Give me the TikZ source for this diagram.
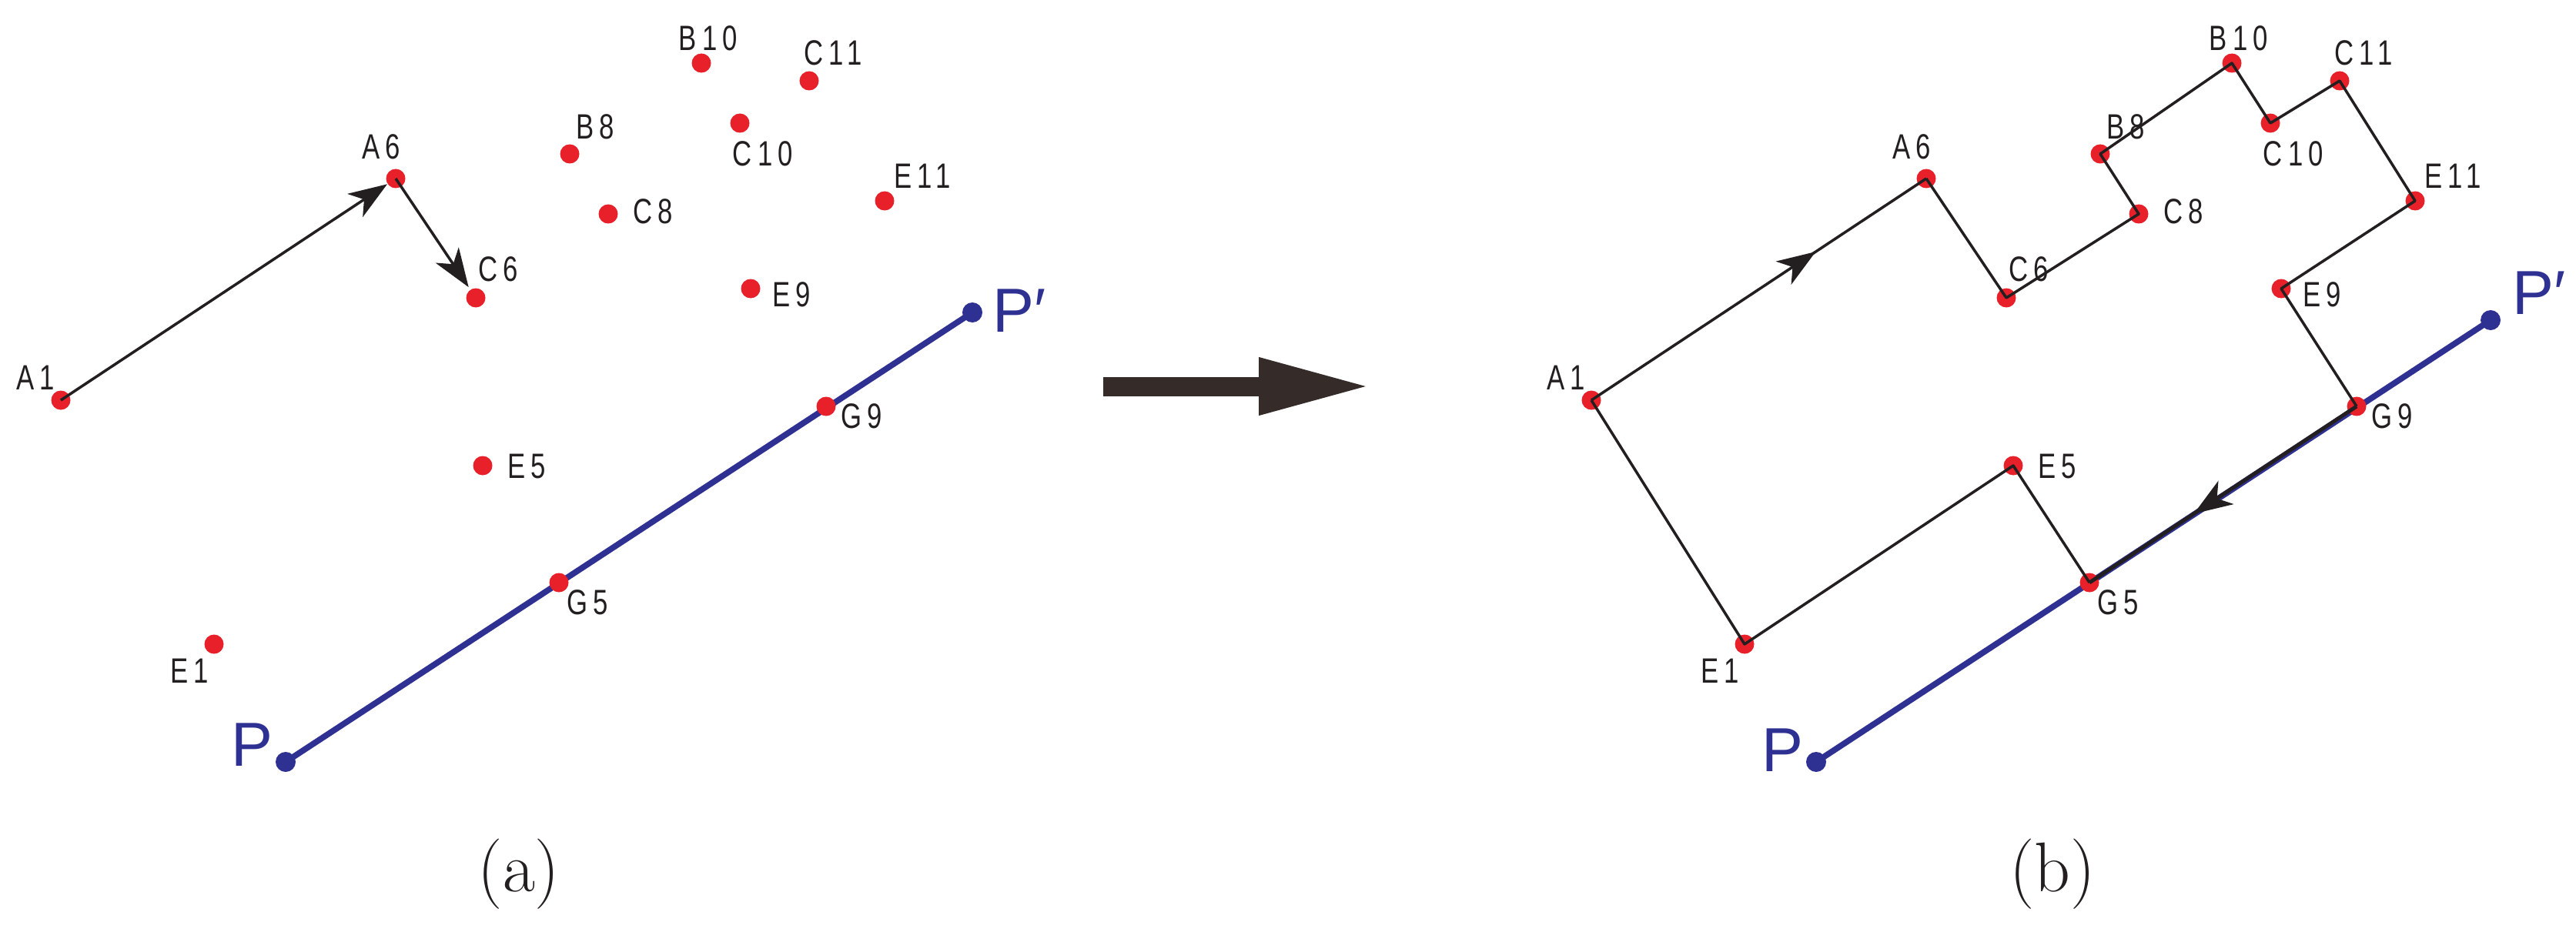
\documentclass[tikz,border=0pt]{standalone}
\usepackage{fontspec}
\usetikzlibrary{arrows.meta,decorations.markings,backgrounds}

\newfontfamily\ptfont[FakeStretch=0.76,LetterSpace=16]{Liberation Sans}
\newfontfamily\endfont{Liberation Sans}

\definecolor{dotred}{HTML}{E8202A}
\definecolor{lineblue}{HTML}{2E3192}
\definecolor{ink}{HTML}{231F20}
\definecolor{bigink}{HTML}{352C2A}

\newcommand\ptlist{A1/0.79/7.03/-0.33/0.29, A6/5.14/9.91/-0.19/0.41,
  C6/6.18/8.36/0.29/0.37, B8/7.40/10.23/0.33/0.35, C8/7.90/9.45/0.58/0.03,
  B10/9.11/11.41/0.09/0.32, C10/9.61/10.63/0.30/-0.40, C11/10.51/11.18/0.31/0.36,
  E11/11.49/9.62/0.49/0.32, E9/9.75/8.48/0.53/-0.08, E5/6.27/6.18/0.57/-0.01,
  G9/10.73/6.95/0.46/-0.13, G5/7.26/4.66/0.37/-0.26, E1/2.78/3.86/-0.32/-0.35}

\tikzset{
  dot/.style={circle, fill=dotred, inner sep=0pt, minimum size=0.25cm},
  enddot/.style={circle, fill=lineblue, inner sep=0pt, minimum size=0.26cm},
  lbl/.style={text=ink, font=\ptfont\fontsize{13}{14}\selectfont, inner sep=0pt},
  endlbl/.style={text=lineblue, font=\endfont\fontsize{23}{24}\selectfont, inner sep=0pt},
  caption/.style={text=ink, font=\fontsize{26}{30}\selectfont, inner sep=0pt},
  axis/.style={color=lineblue, line width=2.2pt},
  route/.style={color=ink, line width=1pt, line join=round},
  routehead/.tip={Stealth[length=5mm,width=3.6mm,inset=1.4mm]},
  midarrow/.style={postaction={decorate, decoration={markings,
      mark=at position #1 with {\arrow{routehead}}}}},
}

\begin{document}
\begin{tikzpicture}
  \useasboundingbox (0,0) rectangle (33.46,12.23);

  \begin{scope}[name prefix=a-]
    \foreach \n/\x/\y/\dx/\dy in \ptlist {
      \node[dot] (\n) at (\x,\y) {};
      \node[lbl] (\n-lbl) at (\x+\dx,\y+\dy) {\n};
    }
    \node[enddot] (P) at (3.71,2.33) {};
    \node[enddot] (Pp) at (12.63,8.17) {};
    \node[endlbl] (P-lbl) at (3.27,2.55) {P};
    \node[endlbl] (Pp-lbl) at (13.24,8.19) {P′};
    \begin{pgfonlayer}{background}
      \draw[axis] (P.center) -- (Pp.center);
    \end{pgfonlayer}
    \draw[route, -{routehead}] (A1.center) -- (A6);
    \draw[route, -{routehead}, shorten >=1pt] (A6.center) -- (C6);
    \node[caption] (cap) at (6.74,0.87) {(a)};
  \end{scope}

  \coordinate (shaft-start) at (14.33,7.21);
  \coordinate (shaft-end) at (17.82,7.21);
  \draw[bigink, line width=0.25cm, -{Triangle[length=1.47cm,width=0.68cm]}]
    (shaft-start) -- (shaft-end);

  \begin{scope}[xshift=19.88cm, name prefix=b-]
    \foreach \n/\x/\y/\dx/\dy in \ptlist {
      \node[dot] (\n) at (\x,\y) {};
      \node[lbl] (\n-lbl) at (\x+\dx,\y+\dy) {\n};
    }
    \node[enddot] (P) at (3.71,2.33) {};
    \node[enddot] (Pp) at (12.47,8.07) {};
    \node[endlbl] (P-lbl) at (3.27,2.48) {P};
    \node[endlbl] (Pp-lbl) at (13.10,8.42) {P′};
    \begin{pgfonlayer}{background}
      \draw[axis] (P.center) -- (Pp.center);
    \end{pgfonlayer}
    \draw[route, midarrow=0.67] (A1.center) -- (A6.center);
    \draw[route] (A6.center) -- (C6.center) -- (C8.center) -- (B8.center)
      -- (B10.center) -- (C10.center) -- (C11.center) -- (E11.center)
      -- (E9.center) -- (G9.center);
    \draw[route, line width=1.4pt, midarrow=0.61] (G9.center) -- (G5.center);
    \draw[route] (G5.center) -- (E5.center) -- (E1.center) -- (A1.center);
    \node[caption] (cap) at (6.78,0.87) {(b)};
  \end{scope}
\end{tikzpicture}
\end{document}
